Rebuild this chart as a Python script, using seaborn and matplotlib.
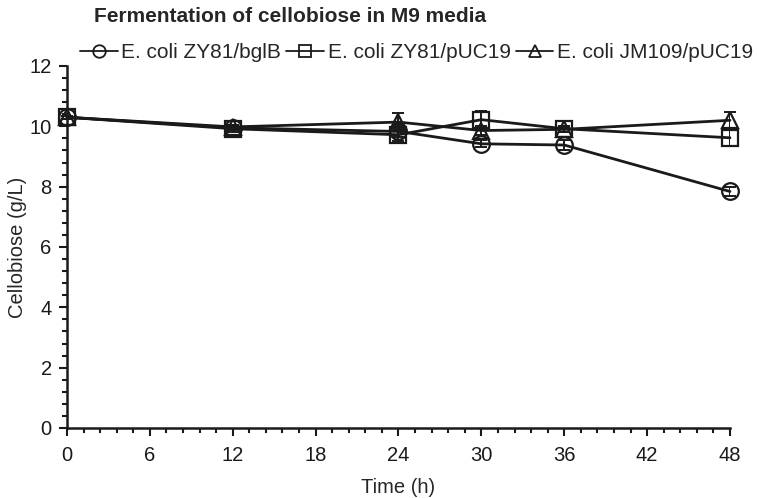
import numpy as np
import pandas as pd
import matplotlib
matplotlib.use("Agg")
import matplotlib.pyplot as plt
import seaborn as sns
from matplotlib.ticker import MultipleLocator

# -------- data --------
time_h = [0, 12, 24, 30, 36, 48]
strains = ["E. coli ZY81/bglB", "E. coli ZY81/pUC19", "E. coli JM109/pUC19"]
bglb_mean = [10.30, 9.95, 9.83, 9.42, 9.38, 7.84]
bglb_err = [0.05, 0.08, 0.20, 0.12, 0.15, 0.15]
puc_mean = [10.30, 9.92, 9.72, 10.22, 9.92, 9.62]
puc_err = [0.05, 0.10, 0.20, 0.30, 0.10, 0.28]
jm_mean = [10.30, 9.98, 10.14, 9.86, 9.90, 10.20]
jm_err = [0.05, 0.08, 0.30, 0.15, 0.08, 0.28]
markers = ["o", "s", "^"]
ink = "#1a1a1a"

sns.set_theme(style="ticks")
plt.rcParams["font.family"] = ["Liberation Sans", "DejaVu Sans"]

df = pd.DataFrame({
    "Time": time_h * 3,
    "Cellobiose": bglb_mean + puc_mean + jm_mean,
    "Err": bglb_err + puc_err + jm_err,
    "Strain": [s for s in strains for _ in time_h],
})

fig, ax = plt.subplots(figsize=(7.57, 4.98), dpi=100)
fig.subplots_adjust(left=0.0885, right=0.9643, top=0.8675, bottom=0.1406)

sns.lineplot(data=df, x="Time", y="Cellobiose", hue="Strain", style="Strain",
             markers=markers, dashes=False, palette=[ink] * 3,
             markersize=12, markeredgewidth=1.6, markeredgecolor=ink,
             markerfacecolor="none", linewidth=2.0, ax=ax, legend=False)

for s in strains:
    sub = df[df["Strain"] == s]
    ax.errorbar(sub["Time"], sub["Cellobiose"], yerr=sub["Err"], fmt="none",
                ecolor=ink, elinewidth=1.4, capsize=4, capthick=1.4)

# legend handles
handles = [plt.Line2D([], [], color=ink, marker=m, markersize=9,
                      markerfacecolor="none", markeredgecolor=ink,
                      markeredgewidth=1.3, linewidth=1.3)
           for m in markers]
ax.legend(handles, strains, loc="center left", bbox_to_anchor=(80 / 757, 1 - 53 / 498),
          bbox_transform=fig.transFigure, ncol=3, frameon=False, fontsize=15,
          handlelength=1.8, handletextpad=0.19, columnspacing=0.24,
          borderpad=0, borderaxespad=0)

ax.set_xlim(0, 48)
ax.set_ylim(0, 12)
ax.xaxis.set_major_locator(MultipleLocator(6))
ax.xaxis.set_minor_locator(MultipleLocator(1.2))
ax.yaxis.set_major_locator(MultipleLocator(2))
ax.yaxis.set_minor_locator(MultipleLocator(0.4))
ax.tick_params(which="major", length=6, width=1.5, labelsize=14.5, colors=ink)
ax.tick_params(which="minor", length=3.5, width=1.5, colors=ink)
ax.tick_params(axis="x", pad=7)
ax.tick_params(axis="y", pad=5)
sns.despine(ax=ax)
for sp in ["left", "bottom"]:
    ax.spines[sp].set_linewidth(1.8)
    ax.spines[sp].set_color(ink)

ax.set_xlabel("Time (h)", fontsize=14.5, labelpad=9)
ax.set_ylabel("Cellobiose (g/L)", fontsize=14.5, labelpad=2)
fig.text(94 / 757, 1 - 16 / 498, "Fermentation of cellobiose in M9 media",
         fontsize=15, fontweight="bold", ha="left", va="center")

for line in ax.lines:
    line.set_clip_on(False)

fig.savefig("out.png", dpi=100)
